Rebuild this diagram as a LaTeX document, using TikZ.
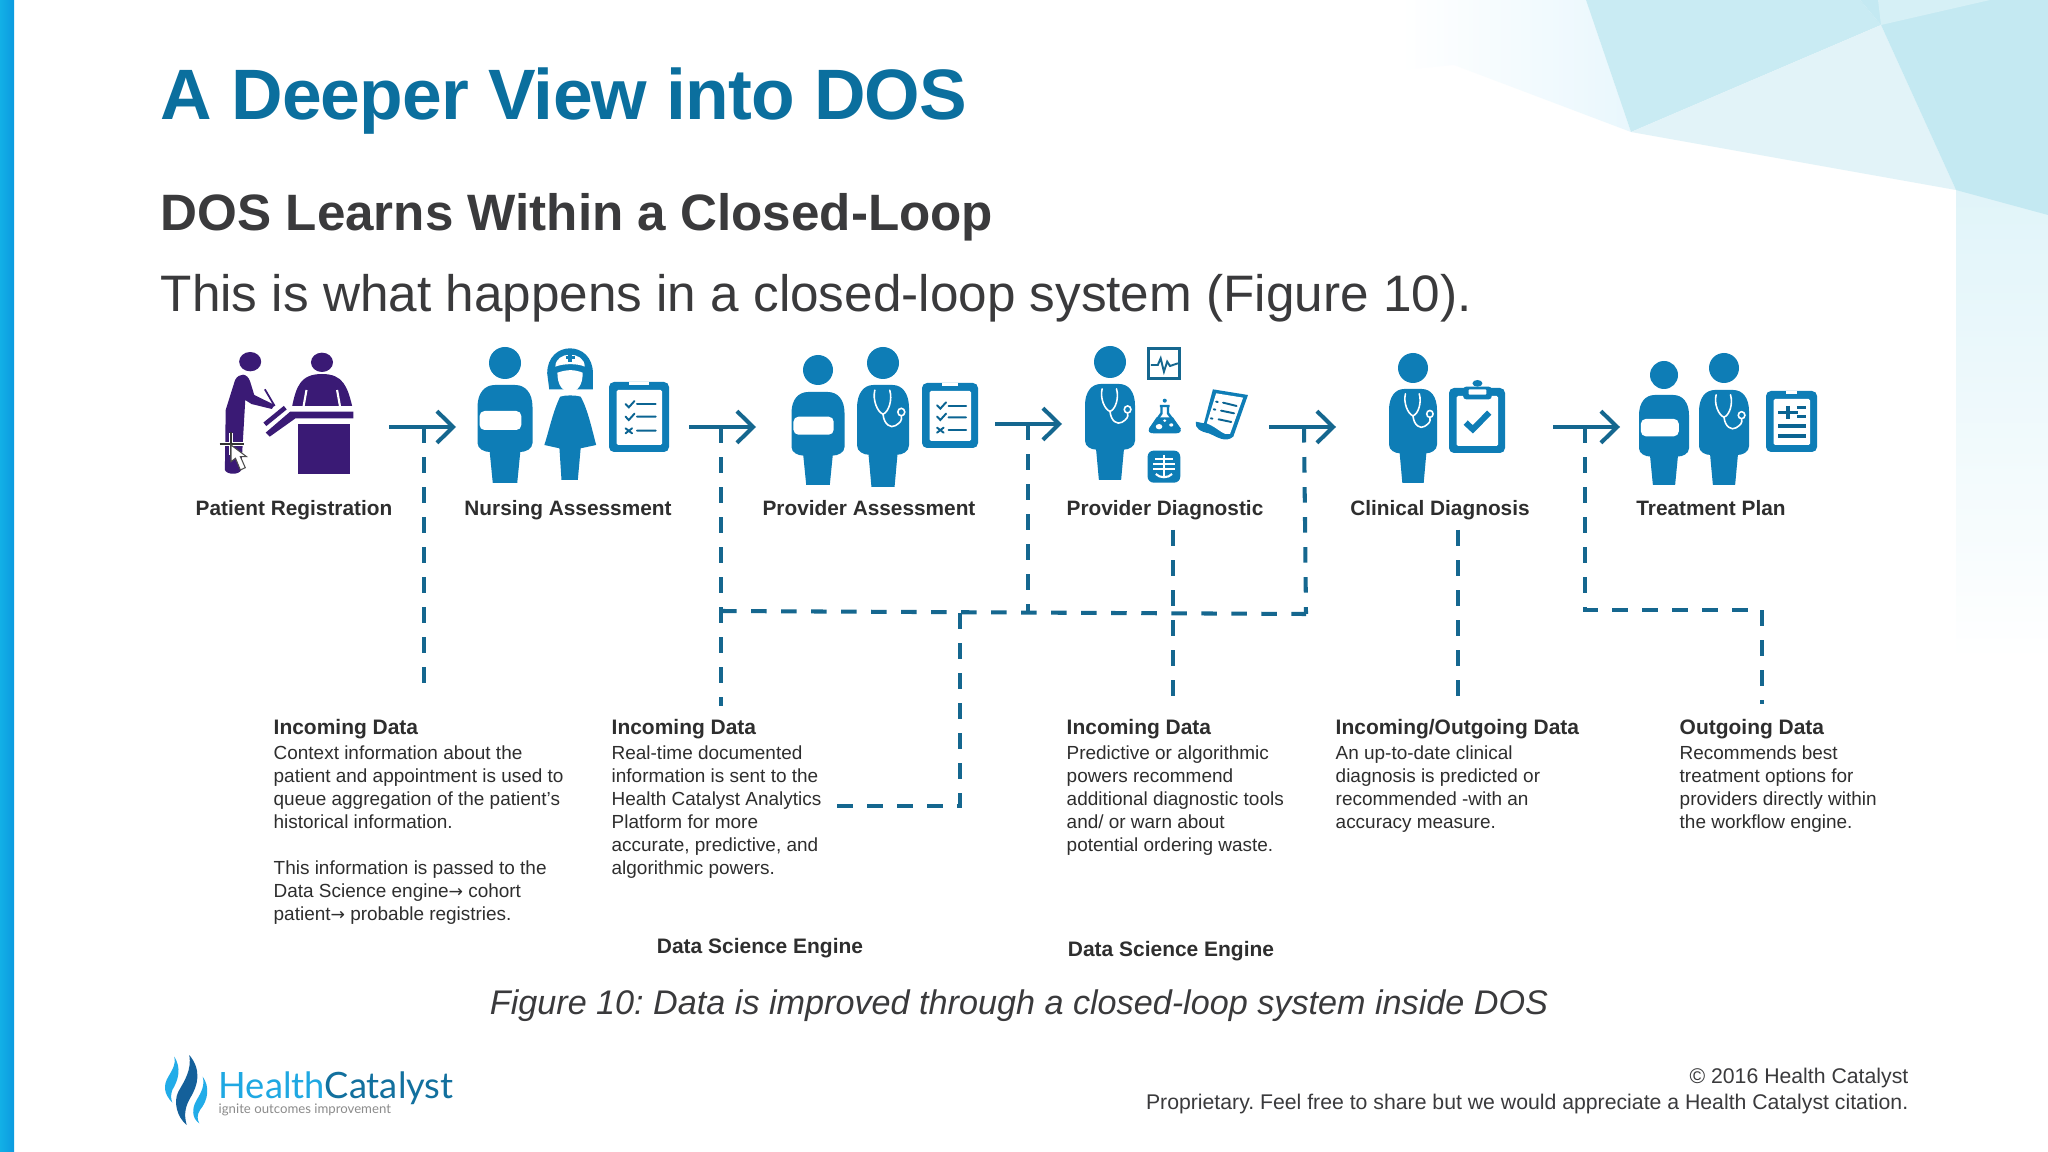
\documentclass[tikz,border=0pt]{standalone}
\usepackage{fontspec}
\setmainfont{Liberation Sans}
\newfontfamily\logofont{Lato}
\newfontfamily\arrowfont{DejaVu Sans}
\newcommand{\arrowglyph}{{\arrowfont\fontsize{4.9pt}{6.54pt}\selectfont →}}
\usetikzlibrary{arrows.meta}
\definecolor{iconblue}{HTML}{0E7DB6}
\definecolor{linkteal}{HTML}{15678F}
\definecolor{purp}{HTML}{3A1A75}
\definecolor{titleblue}{HTML}{0B6F9E}
\definecolor{ink}{HTML}{3A3A3C}
\definecolor{lbl}{HTML}{2E2E2E}
\definecolor{facetA}{HTML}{E9F7FD}
\definecolor{facetB}{HTML}{C9EBF3}
\definecolor{facetC}{HTML}{E2F3F8}
\definecolor{facetD}{HTML}{C4E9F2}
\definecolor{facetE}{HTML}{E0F4F9}
\definecolor{facetF}{HTML}{D6F0F6}
\definecolor{stripA}{HTML}{12B0E6}
\definecolor{stripB}{HTML}{0C9AE0}
\definecolor{logodark}{HTML}{14609A}
\definecolor{logolight}{HTML}{22ACE8}
\definecolor{logotxtA}{HTML}{1FA8E2}
\definecolor{logotxtB}{HTML}{12709E}
\tikzset{
 z1/.style={shift={(180,330)},xscale=0.408,yscale=0.3333},
 z2/.style={shift={(760,330)},xscale=0.408,yscale=0.3333},
 z3/.style={shift={(1340,330)},xscale=0.357,yscale=0.3333},
 z4/.style={shift={(140,1030)},xscale=0.3333,yscale=0.3333},
 flowline/.style={draw=linkteal,line width=1.15pt,-{Straight Barb[length=4.6pt,width=9pt,line width=1.15pt]}},
 dashline/.style={draw=linkteal,line width=1.15pt,dash pattern=on 0.155cm off 0.145cm},
 steplabel/.style={font=\fontsize{5.92pt}{7pt}\selectfont\bfseries,text=lbl,inner sep=0pt,anchor=base},
 blockhead/.style={font=\fontsize{5.96pt}{6.6pt}\selectfont\bfseries,text=lbl,inner sep=0pt,anchor=base west},
 blocktext/.style={font=\fontsize{5.39pt}{6.54pt}\selectfont,text=lbl,inner sep=0pt,anchor=north west,align=left},
 whitemark/.style={draw=white,line width=0.45pt,line cap=round},
 bluemark/.style={draw=iconblue!80!black,line width=0.55pt,line cap=round}
}
\newcommand{\personicon}[7]{%
 \fill[iconblue] (#1,#2) circle (#3);
 \begin{scope}[shift={(#1,#4)},xscale={#6/27},yscale={(#5-#4)/98}]
  \fill[iconblue] (-10,0) -- (10,0) .. controls (20,0) and (27,8) .. (27,22) -- (27,58) .. controls (27,64) and (20,67) .. (15,67) -- (12,98) -- (-12,98) -- (-15,67) .. controls (-20,67) and (-27,64) .. (-27,58) -- (-27,22) .. controls (-27,8) and (-20,0) .. (-10,0) -- cycle;
  #7
 \end{scope}}
\newcommand{\bandmark}{\fill[white,rounded corners=0.05cm] (-25,26) rectangle (16,45);}
\newcommand{\stethmark}{%
 \draw[whitemark] (-8.5,5) .. controls (-11,14) and (-6,26) .. (0,28) .. controls (6,26) and (10,14) .. (7,5);
 \draw[whitemark] (0,28) .. controls (1,38) and (8,42) .. (13,39) .. controls (18,36) and (20,34) .. (19,30);
 \draw[whitemark] (19,26) circle (3.6);}
\newcommand{\boardicon}[4]{%
 \fill[iconblue,rounded corners=0.05cm] (#1,#2) rectangle (#3,#4);
 \fill[white,rounded corners=0.015cm] ({#1+7.5},{#2+8}) rectangle ({#3-7},{#4-7});
 \fill[white] ({#1+20},#2) rectangle ({#3-20},{#2+3});}
\begin{document}
\frenchspacing
\begin{tikzpicture}[x=0.01cm,y=-0.01cm]
\useasboundingbox (0,0) rectangle (2048,1152);
\fill[white] (0,0) rectangle (2048,1152);
% --- background facets
\shade[left color=white,right color=facetA] (1400,0) -- (1400,70) -- (1454,65) -- (1631,132) -- (1586,0) -- cycle;
\fill[facetB] (1586,0) -- (1631,132) -- (1881,25) -- (1860,0) -- cycle;
\fill[facetC] (1631,132) -- (1881,25) -- (1956,190) -- cycle;
\shade[top color=facetE,bottom color=white] (1956,185) -- (2048,205) -- (2048,660) -- (1956,660) -- cycle;
\fill[facetD] (1860,0) -- (1881,25) -- (1956,190) -- (2048,215) -- (2048,0) -- cycle;
\fill[facetF] (1878,0) -- (1881,25) -- (1990,0) -- cycle;
\shade[left color=stripA,right color=stripB] (0,0) rectangle (14,1152);
% --- headings
\node[anchor=base west,inner sep=0pt,font=\fontsize{20.3pt}{24pt}\selectfont\bfseries\addfontfeature{LetterSpace=-1.1},text=titleblue] (title) at (160,120) {A Deeper View into DOS};
\node[anchor=base west,inner sep=0pt,font=\fontsize{14.55pt}{17pt}\selectfont\bfseries,text=ink] (subtitle) at (160,231) {DOS Learns Within a Closed-Loop};
\node[anchor=base west,inner sep=0pt,font=\fontsize{14.58pt}{17pt}\selectfont,text=ink] (lead) at (160,312) {This is what happens in a closed-loop system (Figure 10).};
% --- patient registration icon
\begin{scope}[z1]
 \fill[purp] (172,95) ellipse [x radius=27,y radius=29];
 \fill[purp] (348,97) ellipse [x radius=27,y radius=29];
 \fill[purp] (135,150) .. controls (145,128) and (165,128) .. (172,155) -- (182,195) -- (232,225) -- (225,237) -- (175,222) -- (160,210) -- (150,420) .. controls (145,435) and (115,435) .. (110,420) -- (112,240) -- cycle;
 \draw[purp,line width=0.5pt] (208,178) -- (232,228);
 \fill[purp] (275,228) .. controls (285,170) and (295,132) .. (348,132) .. controls (400,132) and (410,170) .. (422,228) -- cycle;
 \draw[white,line width=0.6pt] (310,180) -- (303,228) (385,180) -- (392,228);
 \fill[purp] (270,245) -- (425,245) -- (425,265) -- (283,265) -- (220,320) -- (210,308) -- cycle;
 \draw[purp,line width=1.3pt] (208,283) -- (258,233);
 \fill[purp] (288,283) rectangle (417,433);
 % pointer marks
 \draw[white,line width=0.9pt] (125,310) -- (125,375) (100,342) -- (155,342);
 \draw[black!80,line width=0.3pt] (125,305) -- (125,380) (97,342) -- (158,342);
 \fill[white,draw=black!70,line width=0.3pt] (125,345) -- (125,395) -- (136,385) -- (148,420) -- (160,413) -- (148,380) -- (163,380) -- cycle;
\end{scope}
% --- nursing
\personicon{505}{363}{16}{385}{483}{27.5}{\bandmark}
\begin{scope}[z1]
 \fill[iconblue] (905,178) -- (900,130) .. controls (900,30) and (1012,30) .. (1012,130) -- (1012,178) -- cycle;
 \fill[white] (920,110) .. controls (920,62) and (992,62) .. (992,110) .. controls (975,100) and (940,100) .. (920,110) -- cycle;
 \fill[white] (925,128) .. controls (950,118) and (965,118) .. (987,128) .. controls (987,165) and (975,185) .. (956,185) .. controls (937,185) and (925,165) .. (925,128) -- cycle;
 \draw[iconblue,line width=0.9pt] (956,68) -- (956,96) (945,82) -- (968,82);
 \fill[iconblue] (932,200) .. controls (945,195) and (968,195) .. (982,200) .. controls (1000,240) and (1010,300) .. (1020,345) -- (982,355) -- (975,450) -- (935,450) -- (930,355) -- (893,345) .. controls (905,300) and (915,240) .. (932,200) -- cycle;
\end{scope}
\boardicon{609}{382}{669}{452}
\begin{scope}[z1]
 \draw[bluemark] (1092,222) -- (1100,232) -- (1114,213) (1120,222) -- (1166,222);
 \draw[bluemark] (1092,260) -- (1100,270) -- (1114,251) (1120,260) -- (1166,260);
 \draw[bluemark] (1092,295) -- (1108,310) (1108,295) -- (1092,310) (1120,302) -- (1166,302);
\end{scope}
% --- provider assessment
\personicon{818}{370}{15}{392}{485}{26.5}{\bandmark}
\personicon{883}{363}{16}{385}{487}{26}{\stethmark}
\boardicon{922}{383}{978}{448}
\begin{scope}[z2]
 \draw[bluemark] (434,226) -- (442,236) -- (456,217) (462,228) -- (505,228);
 \draw[bluemark] (434,260) -- (442,270) -- (456,251) (462,262) -- (505,262);
 \draw[bluemark] (434,293) -- (450,308) (450,293) -- (434,308) (462,300) -- (505,300);
\end{scope}
% --- provider diagnostic
\personicon{1110}{362}{16}{384}{480}{25}{\stethmark}
\begin{scope}[z2]
 \draw[linkteal,line width=0.8pt] (952,55) rectangle (1029,146);
 \draw[linkteal,line width=0.55pt] (958,105) -- (975,105) -- (982,85) -- (990,125) -- (998,95) -- (1005,108) -- (1024,100);
 % flask
 \fill[iconblue] (972,262) -- (1012,262) -- (1030,295) .. controls (1034,305) and (1028,310) .. (1020,310) -- (965,310) .. controls (955,310) and (950,305) .. (954,295) -- cycle;
 \draw[iconblue,line width=0.7pt,line join=round] (984,228) -- (984,250) -- (956,298) (1000,228) -- (1000,250) -- (1029,298) (980,228) -- (1004,228);
 \fill[iconblue] (992,212) ellipse [x radius=5,y radius=6];
 \fill[white] (978,290) ellipse [x radius=8,y radius=8];
 \fill[white] (1008,285) ellipse [x radius=5,y radius=5];
 \fill[white] (992,272) ellipse [x radius=4,y radius=4];
 % scroll
 \fill[iconblue] (1110,178) -- (1196,195) -- (1160,320) .. controls (1140,340) and (1120,320) .. (1100,310) .. controls (1080,305) and (1065,295) .. (1068,275) -- (1088,280) -- cycle;
 \fill[white] (1118,190) -- (1184,203) -- (1152,312) .. controls (1135,318) and (1125,295) .. (1095,280) -- cycle;
 \draw[bluemark] (1118,215) -- (1122,216) (1135,218) -- (1168,228) (1112,238) -- (1116,239) (1130,242) -- (1162,250) (1105,265) -- (1109,266) (1124,268) -- (1155,276);
 % x-ray
 \fill[iconblue,rounded corners=0.06cm] (950,362) rectangle (1030,458);
 \draw[white,line width=0.6pt] (990,375) -- (990,445);
 \draw[white,line width=0.6pt] (968,388) -- (1012,388) (964,402) -- (1016,402) (964,416) -- (1016,416);
 \draw[white,line width=0.6pt] (970,432) .. controls (980,445) and (1000,445) .. (1010,432);
\end{scope}
% --- clinical diagnosis
\personicon{1413}{368}{15}{389}{483}{24}{\stethmark}
\boardicon{1449}{388}{1505}{453}
\begin{scope}[z3]
 \fill[white] (330,205) rectangle (440,345);
 \fill[iconblue,rounded corners=0.03cm] (345,170) rectangle (425,208);
 \fill[iconblue] (385,160) ellipse [x radius=14,y radius=10];
 \fill[white,rounded corners=0.01cm] (360,178) rectangle (410,194);
 \draw[iconblue,line width=1.7pt] (352,278) -- (372,298) -- (418,248);
\end{scope}
% --- treatment plan
\personicon{1664}{375}{14}{395}{485}{25}{\bandmark}
\personicon{1724}{368}{15}{390}{485}{25}{\stethmark}
\boardicon{1766}{391}{1817}{452}
\begin{scope}[z3]
 \draw[bluemark,line width=0.9pt,line cap=butt] (1228,248) -- (1282,248) (1255,228) -- (1255,268) (1280,232) -- (1304,232) (1280,260) -- (1304,260) (1228,288) -- (1304,288) (1228,318) -- (1304,318);
\end{scope}
% --- step labels
\node[steplabel] (reg) at (294,516) {Patient Registration};
\node[steplabel] (nurse) at (568,516) {Nursing Assessment};
\node[steplabel] (prov) at (869,516) {Provider Assessment};
\node[steplabel] (diag) at (1165,516) {Provider Diagnostic};
\node[steplabel] (clin) at (1440,516) {Clinical Diagnosis};
\node[steplabel] (plan) at (1711,516) {Treatment Plan};
% --- connector coordinates
\coordinate (a1s) at (389,427); \coordinate (a1e) at (456,427); \coordinate (t1) at (424,427); \coordinate (b1) at (424,684);
\coordinate (a2s) at (689,427); \coordinate (a2e) at (756,427); \coordinate (t2) at (721,427); \coordinate (j2) at (721,611); \coordinate (b2) at (721,706);
\coordinate (a3s) at (995,424); \coordinate (a3e) at (1062,424); \coordinate (t3) at (1028,424); \coordinate (j3) at (1028,612);
\coordinate (a4s) at (1269,427); \coordinate (a4e) at (1336,427); \coordinate (t4) at (1304,427); \coordinate (j4) at (1306,614);
\coordinate (a5s) at (1553,427); \coordinate (a5e) at (1620,427); \coordinate (t5) at (1585,427); \coordinate (c5) at (1585,610); \coordinate (d5) at (1762,610); \coordinate (b5) at (1762,704);
\coordinate (jm) at (960,613); \coordinate (cm) at (960,806); \coordinate (em) at (836,806);
\coordinate (v1) at (1173,530); \coordinate (v1e) at (1173,699);
\coordinate (v2) at (1458,530); \coordinate (v2e) at (1458,699);
\draw[flowline] (a1s) -- (a1e);
\draw[flowline] (a2s) -- (a2e);
\draw[flowline] (a3s) -- (a3e);
\draw[flowline] (a4s) -- (a4e);
\draw[flowline] (a5s) -- (a5e);
\draw[dashline] (t1) -- (b1);
\draw[dashline] (t2) -- (b2);
\draw[dashline] (t3) -- (j3);
\draw[dashline] (t4) -- (j4);
\draw[dashline] (j2) -- (j4);
\draw[dashline] (t5) -- (c5) -- (d5) -- (b5);
\draw[dashline] (jm) -- (cm) -- (em);
\draw[dashline] (v1) -- (v1e);
\draw[dashline] (v2) -- (v2e);
% --- text blocks
\node[blockhead] (h1) at (273,734) {Incoming Data};
\node[blocktext] (t1b) at (273,745) {Context information about the\\patient and appointment is used to\\queue aggregation of the patient's\\historical information.\\[6.54pt]This information is passed to the\\Data Science engine\arrowglyph{} cohort\\patient\arrowglyph{} probable registries.};
\node[blockhead] (h2) at (611,734) {Incoming Data};
\node[blocktext] (t2b) at (611,745) {Real-time documented\\information is sent to the\\Health Catalyst Analytics\\Platform for more\\accurate, predictive, and\\algorithmic powers.};
\node[blockhead] (h3) at (1066,734) {Incoming Data};
\node[blocktext] (t3b) at (1066,745) {Predictive or algorithmic\\powers recommend\\additional diagnostic tools\\and/ or warn about\\potential ordering waste.};
\node[blockhead] (h4) at (1335,734) {Incoming/Outgoing Data};
\node[blocktext] (t4b) at (1335,745) {An up-to-date clinical\\diagnosis is predicted or\\recommended -with an\\accuracy measure.};
\node[blockhead] (h5) at (1679,734) {Outgoing Data};
\node[blocktext] (t5b) at (1679,745) {Recommends best\\treatment options for\\providers directly within\\the workflow engine.};
\node[blockhead,anchor=base] (e1) at (760,953) {Data Science Engine};
\node[blockhead,anchor=base] (e2) at (1171,956) {Data Science Engine};
% --- caption and footer
\node[anchor=base,inner sep=0pt,font=\fontsize{9.72pt}{11pt}\selectfont\itshape,text=ink] (cap) at (1019,1014) {Figure 10: Data is improved through a closed-loop system inside DOS};
\node[anchor=base east,inner sep=0pt,font=\fontsize{6.04pt}{7pt}\selectfont,text=ink] (fa) at (1909,1083) {© 2016 Health Catalyst};
\node[anchor=base east,inner sep=0pt,font=\fontsize{6.04pt}{7pt}\selectfont,text=ink] (fb) at (1909,1109) {Proprietary. Feel free to share but we would appreciate a Health Catalyst citation.};
% --- logo
\begin{scope}[z4]
 \fill[logodark] (148,75) .. controls (185,120) and (175,165) .. (150,205) .. controls (130,240) and (135,265) .. (140,285) .. controls (110,260) and (100,215) .. (115,185) .. controls (135,150) and (155,120) .. (148,75) -- cycle;
 \fill[logolight] (103,80) .. controls (125,115) and (115,150) .. (97,180) .. controls (92,195) and (92,205) .. (97,218) .. controls (70,190) and (70,165) .. (85,140) .. controls (100,115) and (108,100) .. (103,80) -- cycle;
 \fill[logolight] (188,140) .. controls (210,170) and (205,210) .. (180,240) .. controls (170,255) and (172,270) .. (178,280) .. controls (155,265) and (155,235) .. (170,210) .. controls (185,185) and (195,165) .. (188,140) -- cycle;
\end{scope}
\node[anchor=base west,inner sep=0pt,font=\logofont\fontsize{10.32pt}{12pt}\selectfont] (logo) at (218,1098) {\textcolor{logotxtA}{Health}\textcolor{logotxtB}{Catalyst}};
\node[anchor=base west,inner sep=0pt,font=\logofont\fontsize{3.75pt}{4pt}\selectfont,text=black!45] (tag) at (218,1113) {ignite outcomes improvement};
\end{tikzpicture}
\end{document}
